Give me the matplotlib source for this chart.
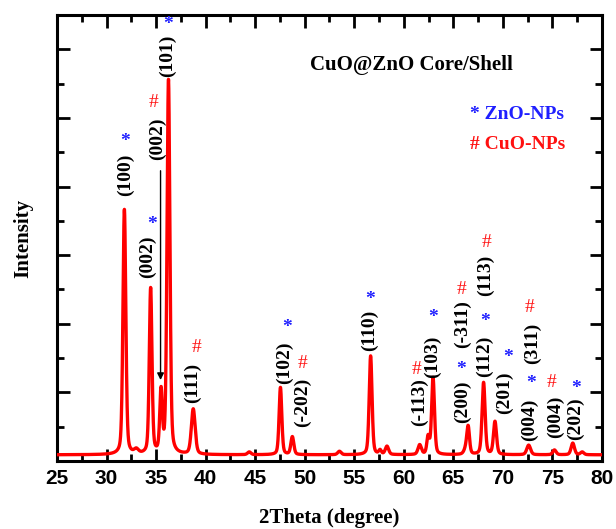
import numpy as np
import matplotlib
matplotlib.use('Agg')
import matplotlib.pyplot as plt
from matplotlib.ticker import MultipleLocator

# XRD peaks of the CuO@ZnO core/shell sample: position (deg), height, FWHM (deg)
peak_pos = [31.8, 33.0, 34.45, 35.5, 36.25, 38.75, 44.4, 47.55, 48.75, 53.5,
            56.65, 57.6, 58.3, 61.6, 62.45, 62.95, 66.35, 66.5, 68.05, 69.2,
            72.6, 75.2, 77.05, 78.0]
peak_h = [3.57, 0.06, 2.41, 0.88, 5.45, 0.66, 0.04, 0.98, 0.26, 0.05,
          1.44, 0.06, 0.12, 0.14, 0.25, 1.12, 0.12, 0.33, 1.05, 0.48,
          0.14, 0.07, 0.17, 0.04]
peak_w = [0.34, 0.5, 0.32, 0.3, 0.34, 0.45, 0.4, 0.32, 0.35, 0.4,
          0.34, 0.3, 0.4, 0.4, 0.3, 0.34, 0.5, 0.3, 0.36, 0.36,
          0.45, 0.4, 0.4, 0.4]
baseline = 0.09

# hkl labels: text, x, y, colour marker, marker x, marker y
hkl_text = ['(100)', '(002)', '(002)', '(101)', '(111)', '(102)', '(-202)', '(110)',
            '(-113)', '(103)', '(200)', '(-311)', '(113)', '(112)', '(201)',
            '(004)', '(311)', '(004)', '(202)']
hkl_x = [31.86, 34.08, 35.09, 36.10, 38.72, 47.91, 49.82, 56.58,
         61.53, 62.94, 65.87, 65.87, 68.29, 68.09, 70.11,
         72.73, 73.03, 75.35, 77.37]
hkl_y = [4.17, 2.98, 4.70, 5.91, 1.14, 1.43, 0.85, 1.91,
         0.86, 1.52, 0.86, 1.99, 2.70, 1.53, 0.99,
         0.60, 1.71, 0.64, 0.61]
phase = ['*', '*', '#', '*', '#', '*', '#', '*',
         '#', '*', '*', '#', '#', '*', '*',
         '*', '#', '#', '*']
mark_x = [31.86, 34.59, 34.69, 36.25, 39.03, 48.21, 49.82, 56.58,
          61.33, 62.94, 65.77, 65.87, 68.39, 68.19, 70.51,
          72.83, 72.73, 74.95, 77.37]
mark_y = [4.72, 3.52, 5.23, 6.43, 1.65, 2.01, 1.42, 2.42,
          1.33, 2.16, 1.40, 2.50, 3.18, 2.10, 1.58,
          1.20, 2.23, 1.15, 1.13]

x = np.linspace(25, 80, 5501)
y = np.full_like(x, baseline)
eta = 0.35
for p, h, w in zip(peak_pos, peak_h, peak_w):
    g = np.exp(-4 * np.log(2) * ((x - p) / w) ** 2)
    l = 1 / (1 + 4 * ((x - p) / w) ** 2)
    y += h * (eta * l + (1 - eta) * g)

serif = 'Liberation Serif'
fig = plt.figure(figsize=(6.16, 5.29), dpi=100)
ax = fig.add_axes([57 / 616, 1 - 461 / 529, 545 / 616, 446 / 529])
ax.plot(x, y, color='#ff0000', lw=2.4, zorder=3)
ax.set_xlim(25, 80)
ax.set_ylim(0, 6.5)

colors = {'*': '#1f1fff', '#': '#ff1010'}
for t, tx, ty in zip(hkl_text, hkl_x, hkl_y):
    ax.text(tx, ty, t, rotation=90, ha='center', va='center',
            fontsize=14, fontweight='bold', family=serif, zorder=4)
for m, mx, my in zip(phase, mark_x, mark_y):
    if m == '*':
        ax.text(mx, my - 0.07, m, ha='center', va='center', color=colors[m],
                fontsize=14, fontweight='bold', family=serif, zorder=4)
    else:
        ax.text(mx, my, m, ha='center', va='center', color=colors[m],
                fontsize=14, family=serif, zorder=4)

# arrow pointing to the CuO (002) reflection
ax.annotate('', xy=(35.45, 1.18), xytext=(35.45, 4.23),
            arrowprops=dict(arrowstyle='-|>', color='black', lw=1.0,
                            mutation_scale=10, shrinkA=0, shrinkB=0))

ax.text(0.465, 0.888, 'CuO@ZnO Core/Shell', transform=ax.transAxes,
        fontsize=15, fontweight='bold', family=serif, va='center', ha='left')
ax.text(0.757, 0.776, '* ZnO-NPs', transform=ax.transAxes, color='#1f1fff',
        fontsize=14, fontweight='bold', family=serif, va='center', ha='left')
ax.text(0.758, 0.709, '# CuO-NPs', transform=ax.transAxes, color='#ff1010',
        fontsize=14, fontweight='bold', family=serif, va='center', ha='left')

ax.set_xlabel('2Theta (degree)', fontsize=15, fontweight='bold', family=serif,
              labelpad=14)
ax.set_ylabel('Intensity', fontsize=15, fontweight='bold', family=serif,
              labelpad=14)

ax.xaxis.set_major_locator(MultipleLocator(5))
ax.xaxis.set_minor_locator(MultipleLocator(2.5))
ax.yaxis.set_major_locator(MultipleLocator(1))
ax.yaxis.set_minor_locator(MultipleLocator(0.5))
ax.tick_params(which='both', direction='in', top=True, right=True, width=2)
ax.tick_params(which='major', length=9)
ax.tick_params(which='minor', length=5)
ax.tick_params(axis='y', labelleft=False)
ax.tick_params(axis='x', labelsize=15, pad=6)
for lab in ax.get_xticklabels():
    lab.set_fontfamily('Liberation Sans')
    lab.set_fontweight('bold')
for s in ax.spines.values():
    s.set_linewidth(2.2)

fig.savefig('out.png', dpi=100)
